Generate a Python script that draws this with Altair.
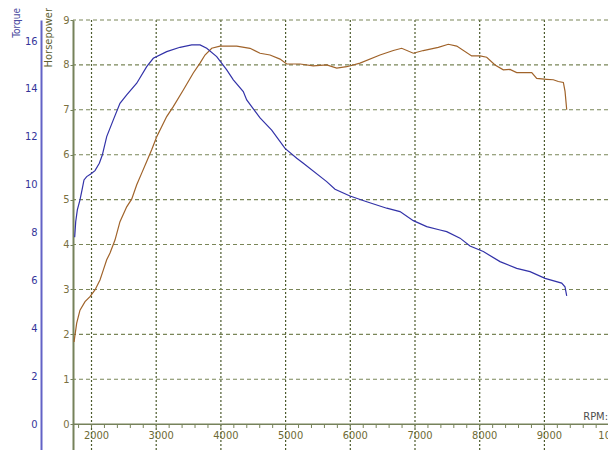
import altair as alt
import pandas as pd

# ---- data ----
torque_rpm = [1740, 1756, 1781, 1822, 1853, 1884, 1926, 1988, 2054, 2121, 2167, 2235,
              2337, 2440, 2544, 2699, 2853, 2955, 3162, 3368, 3549, 3678, 3781, 3935,
              4090, 4192, 4346, 4399, 4605, 4785, 4991, 5172, 5274, 5635, 5764, 5995,
              6254, 6563, 6768, 6974, 7181, 7387, 7490, 7696, 7850, 8056, 8314, 8572,
              8778, 9010, 9267, 9318, 9345]
torque_vals = [7.81, 8.46, 8.95, 9.37, 9.78, 10.20, 10.34, 10.45, 10.59, 10.90, 11.24, 12.01,
               12.71, 13.40, 13.75, 14.24, 14.93, 15.28, 15.56, 15.74, 15.84, 15.84, 15.70, 15.35,
               14.80, 14.38, 13.89, 13.54, 12.79, 12.28, 11.52, 11.11, 10.90, 10.13, 9.81, 9.53,
               9.29, 9.02, 8.88, 8.50, 8.25, 8.11, 8.04, 7.77, 7.44, 7.21, 6.79, 6.51,
               6.37, 6.09, 5.89, 5.74, 5.36]

hp_rpm = [1730, 1771, 1822, 1900, 1977, 2054, 2131, 2182, 2235, 2286, 2363, 2440,
          2544, 2621, 2699, 2776, 2853, 2930, 3008, 3162, 3264, 3419, 3573, 3677,
          3754, 3858, 3986, 4244, 4450, 4605, 4759, 4914, 5017, 5223, 5428, 5635,
          5790, 5944, 6150, 6459, 6665, 6794, 6974, 7128, 7360, 7515, 7645, 7876,
          8005, 8108, 8237, 8365, 8468, 8572, 8804, 8881, 9036, 9138, 9215, 9293,
          9319, 9345]
hp_vals = [1.83, 2.25, 2.54, 2.73, 2.84, 2.99, 3.21, 3.43, 3.66, 3.81, 4.10, 4.51,
           4.84, 5.01, 5.33, 5.59, 5.85, 6.11, 6.40, 6.85, 7.07, 7.44, 7.82, 8.04,
           8.22, 8.37, 8.42, 8.42, 8.37, 8.26, 8.22, 8.13, 8.02, 8.02, 7.98, 8.00,
           7.93, 7.96, 8.04, 8.22, 8.32, 8.37, 8.26, 8.32, 8.39, 8.46, 8.42, 8.20,
           8.20, 8.17, 8.00, 7.89, 7.90, 7.83, 7.83, 7.70, 7.68, 7.67, 7.63, 7.61,
           7.41, 7.00]

rpm_major = [2000, 3000, 4000, 5000, 6000, 7000, 8000, 9000, 10000]
rpm_minor = list(range(1800, 10001, 200))
hp_ticks = [0, 1, 2, 3, 4, 5, 6, 7, 8, 9]
hp_grid = [1, 2, 3, 4, 5, 6, 7, 8, 9]
torque_ticks = [0, 2, 4, 6, 8, 10, 12, 14, 16]

tq_df = pd.DataFrame({"rpm": torque_rpm, "torque": torque_vals})
hp_df = pd.DataFrame({"rpm": hp_rpm, "hp": hp_vals})

FONT = "Liberation Sans Narrow, DejaVu Sans Condensed, Liberation Sans"
OLIVE = "#76825a"

x_scale = alt.Scale(domain=[1714, 9983], nice=False, zero=False)
hp_scale = alt.Scale(domain=[-0.575, 9], nice=False, zero=False)
tq_scale = alt.Scale(domain=[-1.078, 16.88], nice=False, zero=False)

vgrid = alt.Chart(pd.DataFrame({"rpm": rpm_major})).mark_rule(
    color="#4b5a2c", strokeDash=[2, 2], strokeWidth=1.2
).encode(x=alt.X("rpm:Q", scale=x_scale, axis=None))

hgrid = alt.Chart(pd.DataFrame({"hp": hp_grid})).mark_rule(
    color="#7a8658", strokeDash=[4, 3], strokeWidth=1.1
).encode(y=alt.Y("hp:Q", scale=hp_scale, axis=None))

# x axis drawn by hand at HP = 0
x_axis_line = alt.Chart(pd.DataFrame({"hp": [0]})).mark_rule(
    color=OLIVE, strokeWidth=1.5
).encode(y=alt.Y("hp:Q", scale=hp_scale, axis=None))

x_minor_ticks = alt.Chart(pd.DataFrame({"rpm": rpm_minor})).mark_rule(
    color=OLIVE, strokeWidth=1
).encode(
    x=alt.X("rpm:Q", scale=x_scale, axis=None),
    y=alt.Y(datum=0, scale=hp_scale, axis=None),
    y2=alt.Y2(datum=-0.085),
)

x_labels = alt.Chart(pd.DataFrame({"rpm": rpm_major})).mark_text(
    align="center", baseline="top", dx=5, dy=6, font=FONT, fontSize=11, color="#6e6a35"
).encode(
    x=alt.X("rpm:Q", scale=x_scale, axis=None),
    y=alt.Y(datum=0, scale=hp_scale, axis=None),
    text=alt.Text("rpm:Q", format="d"),
)

hp_line = alt.Chart(hp_df).mark_line(color="#a0632a", strokeWidth=1.2).encode(
    x=alt.X("rpm:Q", scale=x_scale, axis=None),
    y=alt.Y("hp:Q", scale=hp_scale, axis=alt.Axis(
        values=hp_ticks, title=None, grid=False, orient="left", offset=0,
        tickSize=3, tickColor=OLIVE, domainColor=OLIVE, domainWidth=2,
        labelPadding=1, labelColor="#7a7040", labelFont=FONT, labelFontSize=11,
        labelOverlap=False, labelFlush=False, format="d")),
)

tq_line = alt.Chart(tq_df).mark_line(color="#3232a8", strokeWidth=1.2).encode(
    x=alt.X("rpm:Q", scale=x_scale, axis=None),
    y=alt.Y("torque:Q", scale=tq_scale, axis=alt.Axis(
        values=torque_ticks, title=None, grid=False, orient="left", offset=32,
        ticks=False, domainColor="#6262c6", domainWidth=2,
        labelPadding=4, labelColor="#34349a", labelFont=FONT, labelFontSize=11,
        labelOverlap=False, labelFlush=False, format="d")),
)

rpm_text = alt.Chart(pd.DataFrame({"t": ["RPM:"]})).mark_text(
    align="right", baseline="alphabetic", font=FONT, fontSize=11, color="#4d4d4d"
).encode(x=alt.value(535), y=alt.value(400), text="t:N")

torque_title = alt.Chart(pd.DataFrame({"t": ["Torque"]})).mark_text(
    align="right", baseline="middle", angle=270, font=FONT, fontSize=10, color="#4a4aa0"
).encode(x=alt.value(-56), y=alt.value(-12), text="t:N")

hp_title = alt.Chart(pd.DataFrame({"t": ["Horsepower"]})).mark_text(
    align="right", baseline="middle", angle=270, font=FONT, fontSize=11, color="#5e5e30"
).encode(x=alt.value(-24.5), y=alt.value(-12), text="t:N")

chart = alt.layer(
    vgrid, hgrid, x_axis_line, x_minor_ticks, x_labels,
    hp_line, tq_line, rpm_text, torque_title, hp_title
).resolve_scale(y="independent").properties(
    width=535, height=430,
    autosize=alt.AutoSizeParams(type="none"),
    padding={"left": 65, "top": 12, "right": 0, "bottom": 0},
).configure_view(stroke=None)

chart.save("out.html", embed_options={"renderer": "svg", "actions": False})
